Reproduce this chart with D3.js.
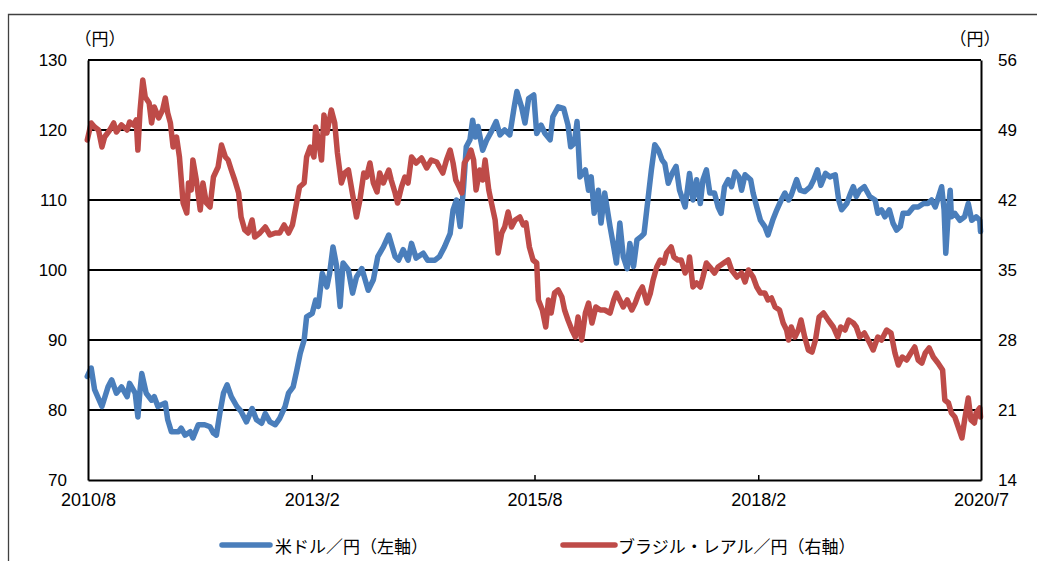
<!DOCTYPE html>
<meta charset="utf-8">
<script src="https://d3js.org/d3.v7.min.js"></script>
<style>
  body { margin: 0; background: #fff; }
</style>
<div id="chart"></div>
<script>
  // readings, time as decimal year
  var usdT = [2010.58,2010.62,2010.66,2010.74,2010.81,2010.85,2010.90,2010.96,2011.02,2011.05,2011.11,2011.14,2011.17,2011.19,2011.24,2011.30,2011.33,2011.37,2011.45,2011.48,2011.52,2011.60,2011.63,2011.67,2011.73,2011.76,2011.82,2011.89,2011.95,2011.99,2012.02,2012.06,2012.10,2012.14,2012.19,2012.25,2012.30,2012.36,2012.42,2012.47,2012.53,2012.57,2012.62,2012.68,2012.73,2012.79,2012.83,2012.88,2012.92,2012.96,2013.00,2013.03,2013.09,2013.13,2013.16,2013.21,2013.26,2013.29,2013.33,2013.37,2013.41,2013.44,2013.50,2013.55,2013.59,2013.65,2013.72,2013.78,2013.83,2013.89,2013.95,
    2014.02,2014.06,2014.11,2014.17,2014.21,2014.26,2014.34,2014.39,2014.47,2014.52,2014.58,2014.64,2014.67,2014.71,2014.75,2014.79,2014.82,2014.86,2014.89,2014.92,2014.95,2015.00,2015.05,2015.10,2015.15,2015.20,2015.25,2015.31,2015.36,2015.39,2015.44,2015.48,2015.52,2015.58,2015.61,2015.66,2015.70,2015.76,2015.79,2015.85,2015.91,2015.96,2015.99,2016.03,2016.06,2016.09,2016.15,2016.19,2016.22,2016.25,2016.30,2016.33,2016.37,2016.43,2016.47,2016.50,2016.54,2016.58,2016.62,2016.65,2016.69,2016.73,2016.78,2016.81,2016.86,2016.89,2016.93,2016.97,2017.01,2017.04,2017.08,2017.12,2017.17,2017.21,2017.27,
    2017.32,2017.36,2017.40,2017.44,2017.47,2017.51,2017.55,2017.60,2017.64,2017.67,2017.71,2017.75,2017.79,2017.83,2017.87,2017.90,2017.94,2018.00,2018.03,2018.07,2018.11,2018.16,2018.20,2018.25,2018.30,2018.35,2018.39,2018.43,2018.46,2018.52,2018.56,2018.61,2018.67,2018.71,2018.75,2018.79,2018.84,2018.89,2018.95,2018.99,2019.02,2019.08,2019.12,2019.15,2019.19,2019.23,2019.28,2019.34,2019.40,2019.43,2019.47,2019.51,2019.56,2019.60,2019.64,2019.68,2019.71,2019.77,2019.83,2019.88,2019.94,2019.99,2020.03,2020.07,2020.10,2020.14,2020.17,2020.19,2020.22,2020.24,2020.25,2020.29,2020.35,2020.40,2020.44,2020.48,2020.53,2020.57,2020.58];
  var usdV = [84.8,86.0,82.9,80.5,83.3,84.3,82.4,83.3,81.9,83.8,82.4,79.0,82.9,85.2,82.4,81.4,81.9,80.5,81.0,78.6,76.9,76.9,77.4,76.4,76.9,76.0,77.9,77.9,77.6,76.7,76.4,79.5,82.4,83.6,81.9,80.5,79.8,78.3,80.2,78.6,78.1,79.5,78.3,77.9,78.8,80.5,82.4,83.3,85.7,88.1,90.0,93.3,93.8,95.7,94.8,99.5,97.6,99.5,103.3,100.5,94.8,101.0,100.0,96.7,99.0,100.2,97.1,98.6,101.9,103.3,105.0,
    101.9,101.4,102.9,101.4,103.8,101.7,102.4,101.4,101.4,101.9,103.3,105.2,108.6,110.0,106.2,111.9,117.6,118.6,121.4,119.0,120.5,117.1,118.6,119.8,121.2,119.3,120.0,119.3,123.3,125.5,123.3,121.0,124.5,125.0,119.5,120.7,119.5,118.6,121.9,123.3,123.1,120.7,117.6,118.1,121.2,113.3,114.3,111.4,113.3,108.1,111.4,106.7,111.0,106.2,103.3,101.0,106.7,101.9,100.2,103.8,100.5,104.3,104.8,105.2,111.0,114.3,117.9,117.1,115.7,115.2,112.4,113.8,114.8,111.4,109.0,
    113.8,110.0,112.9,109.5,112.9,114.3,111.0,111.0,109.0,108.1,111.9,112.9,111.9,114.0,113.3,111.4,113.6,112.9,111.0,109.0,107.1,106.2,105.0,107.1,108.6,110.0,111.0,110.0,110.7,112.9,111.4,111.2,111.9,112.9,114.3,112.1,113.8,113.3,113.6,110.0,108.6,109.5,111.0,111.9,110.5,111.4,111.9,110.5,110.0,108.1,108.6,107.6,108.6,106.7,105.7,106.2,108.1,108.1,109.0,109.0,109.5,109.5,110.0,109.0,110.2,111.9,108.6,102.4,108.6,111.4,107.6,108.1,107.1,107.6,109.5,107.1,107.6,107.1,105.5];

  var brlT = [2010.58,2010.62,2010.66,2010.70,2010.74,2010.77,2010.83,2010.87,2010.90,2010.96,2011.02,2011.05,2011.09,2011.12,2011.14,2011.17,2011.20,2011.23,2011.27,2011.30,2011.33,2011.38,2011.42,2011.45,2011.48,2011.51,2011.54,2011.58,2011.61,2011.65,2011.69,2011.71,2011.74,2011.76,2011.80,2011.84,2011.87,2011.91,2011.95,2011.99,2012.04,2012.08,2012.12,2012.15,2012.19,2012.23,2012.27,2012.30,2012.34,2012.38,2012.42,2012.45,2012.51,2012.57,2012.62,2012.68,2012.73,2012.78,2012.83,2012.87,2012.91,2012.95,2013.00,2013.03,2013.07,2013.11,2013.13,2013.16,2013.20,2013.23,2013.26,2013.31,2013.35,2013.38,2013.42,2013.46,2013.50,2013.54,2013.59,2013.63,2013.67,2013.70,2013.74,2013.78,2013.82,2013.85,2013.89,2013.95,
    2013.98,2014.02,2014.05,2014.09,2014.13,2014.17,2014.21,2014.26,2014.32,2014.38,2014.43,2014.49,2014.52,2014.56,2014.60,2014.64,2014.67,2014.70,2014.74,2014.77,2014.80,2014.84,2014.87,2014.90,2014.93,2014.97,2015.00,2015.03,2015.07,2015.10,2015.14,2015.18,2015.22,2015.25,2015.29,2015.33,2015.37,2015.42,2015.46,2015.49,2015.53,2015.57,2015.61,2015.63,2015.67,2015.71,2015.74,2015.77,2015.81,2015.85,2015.89,2015.92,2015.96,2016.00,2016.04,2016.07,2016.11,2016.15,2016.19,2016.23,2016.27,2016.32,2016.37,2016.43,2016.47,2016.50,2016.54,2016.58,2016.62,2016.67,2016.71,2016.75,2016.79,2016.84,2016.88,2016.91,2016.95,2016.99,2017.03,2017.06,2017.11,2017.14,2017.19,2017.23,2017.27,2017.31,
    2017.32,2017.36,2017.40,2017.44,2017.47,2017.51,2017.55,2017.60,2017.64,2017.70,2017.75,2017.79,2017.85,2017.90,2017.94,2017.98,2018.03,2018.07,2018.11,2018.16,2018.20,2018.24,2018.28,2018.33,2018.37,2018.41,2018.43,2018.46,2018.50,2018.54,2018.57,2018.61,2018.65,2018.69,2018.73,2018.77,2018.82,2018.87,2018.93,2018.98,2019.01,2019.06,2019.10,2019.15,2019.19,2019.23,2019.28,2019.34,2019.38,2019.43,2019.47,2019.53,2019.58,2019.62,2019.66,2019.70,2019.75,2019.80,2019.84,2019.88,2019.92,2019.96,2020.00,2020.05,2020.10,2020.15,2020.18,2020.22,2020.25,2020.29,2020.33,2020.37,2020.40,2020.44,2020.47,2020.51,2020.53,2020.57,2020.58];
  var brlV = [48.0,49.7,49.3,49.0,47.3,48.3,49.0,49.7,48.8,49.5,49.0,49.8,49.5,50.0,47.0,51.0,54.0,52.3,51.7,49.7,51.3,50.2,51.0,52.2,50.7,49.7,47.3,48.3,46.3,41.7,40.7,43.7,43.0,46.0,44.0,41.0,43.7,41.7,41.3,44.3,45.3,47.5,46.3,46.0,45.0,44.0,42.7,40.3,39.0,38.7,40.0,38.3,38.7,39.3,38.5,38.7,38.7,39.5,38.7,39.5,41.3,43.3,43.7,46.3,47.3,46.3,49.3,48.0,46.0,50.5,48.7,51.0,49.7,46.7,43.7,44.7,45.0,43.0,40.3,42.0,44.7,44.3,45.7,43.7,42.8,44.7,43.7,45.0,
    44.0,42.7,41.7,43.3,44.3,43.7,46.3,45.7,46.2,45.2,46.0,45.8,45.3,44.7,46.0,47.0,45.7,44.0,43.3,42.7,45.7,46.3,47.0,46.0,43.0,45.0,44.0,46.0,43.0,41.7,40.0,36.7,38.7,39.3,40.8,39.3,40.0,40.3,39.5,39.7,37.3,36.0,35.7,32.0,31.0,29.3,32.0,30.7,32.7,33.0,32.3,31.0,30.0,29.0,28.3,30.3,28.0,30.7,31.7,29.7,31.3,31.0,31.0,30.7,32.0,32.7,32.0,31.3,32.0,31.0,31.7,32.7,33.3,31.7,32.7,34.0,35.3,36.0,35.7,36.7,37.3,36.3,36.0,36.0,34.7,35.5,
    36.3,33.3,33.7,33.3,34.3,35.7,35.3,34.7,35.3,35.7,36.0,35.0,34.3,34.7,33.8,35.0,34.3,33.3,32.7,32.7,32.0,32.2,31.3,31.0,29.7,29.0,28.0,29.3,28.3,29.0,30.0,28.3,27.0,26.8,28.0,30.3,30.7,30.0,29.3,28.3,29.3,29.0,30.0,29.7,29.3,28.3,28.7,27.7,27.0,28.3,28.0,29.0,28.7,26.7,25.5,26.3,26.0,26.7,27.3,26.0,25.7,26.7,27.2,26.3,25.7,25.0,22.0,21.7,20.7,20.3,19.3,18.2,20.0,22.2,20.0,19.7,20.7,21.2,20.3];

  var xTickDates = ["2010-08-01", "2013-02-01", "2015-08-01", "2018-02-01", "2020-07-31"];
  var xTickLabels = ["2010/8", "2013/2", "2015/8", "2018/2", "2020/7"];
  var leftTicks = [70, 80, 90, 100, 110, 120, 130];
  var rightTicks = [14, 21, 28, 35, 42, 49, 56];
  var unitLabel = "（円）";
  var seriesNames = ["米ドル／円（左軸）", "ブラジル・レアル／円（右軸）"];
  var seriesColors = ["#4a7ebb", "#be4b48"];

  var W = 1037, H = 561;
  var pL = 88, pR = 981, pT = 60, pB = 480;
  var numFont = "'Liberation Sans', Arial, sans-serif";
  var jpFont = "'Noto Sans CJK JP', sans-serif";

  function toDate(t) {
    var m = t * 12, whole = Math.floor(m);
    return new Date(Math.floor(whole / 12), whole % 12, 1 + (m - whole) * 30);
  }
  var parse = d3.timeParse("%Y-%m-%d");

  var x = d3.scaleTime()
    .domain([parse(xTickDates[0]), parse(xTickDates[xTickDates.length - 1])])
    .range([pL, pR]);
  var yL = d3.scaleLinear().domain([70, 130]).range([pB, pT]);
  var yR = d3.scaleLinear().domain([14, 56]).range([pB, pT]);

  var svg = d3.select("#chart").append("svg")
    .attr("width", W).attr("height", H);

  // outer frame
  svg.append("path")
    .attr("d", "M8.5," + H + "V14.5H" + W)
    .attr("fill", "none").attr("stroke", "#404040").attr("stroke-width", 1.3);

  // gridlines
  svg.append("g").selectAll("line")
    .data(leftTicks.slice(1))
    .enter().append("line")
      .attr("x1", pL).attr("x2", pR)
      .attr("y1", function(d) { return yL(d); })
      .attr("y2", function(d) { return yL(d); })
      .attr("stroke", "#000").attr("stroke-width", 2);

  var usd = usdT.map(function(t, i) { return [toDate(t), usdV[i]]; });
  var brl = brlT.map(function(t, i) { return [toDate(t), brlV[i]]; });

  var lineL = d3.line().x(function(d) { return x(d[0]); }).y(function(d) { return yL(d[1]); });
  var lineR = d3.line().x(function(d) { return x(d[0]); }).y(function(d) { return yR(d[1]); });

  svg.append("path").datum(usd)
    .attr("d", lineL)
    .attr("fill", "none").attr("stroke", seriesColors[0])
    .attr("stroke-width", 5.5).attr("stroke-linejoin", "round").attr("stroke-linecap", "round");
  svg.append("path").datum(brl)
    .attr("d", lineR)
    .attr("fill", "none").attr("stroke", seriesColors[1])
    .attr("stroke-width", 5.5).attr("stroke-linejoin", "round").attr("stroke-linecap", "round");

  // axes
  var axisL = svg.append("g").attr("transform", "translate(" + pL + ",0)")
    .call(d3.axisLeft(yL).tickValues(leftTicks).tickSize(0).tickPadding(21));
  var axisR = svg.append("g").attr("transform", "translate(" + pR + ",0)")
    .call(d3.axisRight(yR).tickValues(rightTicks).tickSize(0).tickPadding(17));
  var axisB = svg.append("g").attr("transform", "translate(0," + pB + ")")
    .call(d3.axisBottom(x)
      .tickValues(xTickDates.map(parse))
      .tickSizeInner(-5).tickSizeOuter(0).tickPadding(13)
      .tickFormat(function(d, i) { return xTickLabels[i]; }));

  [axisL, axisR, axisB].forEach(function(a) {
    a.select(".domain").attr("stroke", "#000").attr("stroke-width", 2);
    a.selectAll(".tick line").attr("stroke", "#000").attr("stroke-width", 1.5);
    a.selectAll("text").attr("font-family", numFont).attr("font-size", 17).attr("fill", "#000");
  });
  axisB.selectAll("text").attr("font-size", 18);
  axisB.selectAll(".tick").filter(function(d, i) { return i === 0 || i === xTickDates.length - 1; })
    .select("line").remove();

  // unit labels
  svg.append("text").attr("x", 100).attr("y", 37).attr("text-anchor", "middle")
    .attr("dominant-baseline", "central")
    .attr("font-family", jpFont).attr("font-size", 17).text(unitLabel);
  svg.append("text").attr("x", 975).attr("y", 37).attr("text-anchor", "middle")
    .attr("dominant-baseline", "central")
    .attr("font-family", jpFont).attr("font-size", 17).text(unitLabel);

  // legend
  var legendX = [[222, 270, 275], [563, 615, 618]];
  seriesNames.forEach(function(name, i) {
    var lg = svg.append("g");
    lg.append("line")
      .attr("x1", legendX[i][0]).attr("x2", legendX[i][1])
      .attr("y1", 545).attr("y2", 545)
      .attr("stroke", seriesColors[i]).attr("stroke-width", 5.5).attr("stroke-linecap", "round");
    lg.append("text")
      .attr("x", legendX[i][2]).attr("y", 545)
      .attr("dominant-baseline", "central")
      .attr("font-family", jpFont).attr("font-size", 17).text(name);
  });
</script>
